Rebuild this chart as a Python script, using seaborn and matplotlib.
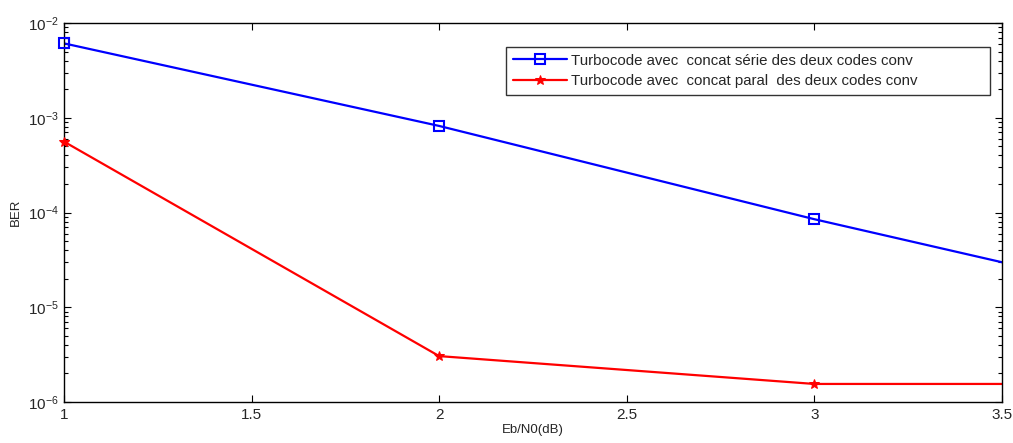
import matplotlib
matplotlib.use("Agg")
import matplotlib.pyplot as plt
import matplotlib.ticker as mticker
import numpy as np
import pandas as pd
import seaborn as sns

# Data
ebn0 = [1, 2, 3, 4]
ber_serie = [6.1e-3, 8.2e-4, 8.5e-5, 1.05e-5]
ber_paral = [5.6e-4, 3.05e-6, 1.55e-6, 1.55e-6]
label_serie = "Turbocode avec  concat série des deux codes conv"
label_paral = "Turbocode avec  concat paral  des deux codes conv"
x_ticks = [1, 1.5, 2, 2.5, 3, 3.5]
x_ticklabels = ["1", "1.5", "2", "2.5", "3", "3.5"]
y_exps = [-6, -5, -4, -3, -2]

sns.set_theme(style="white")
plt.rcParams["font.family"] = ["Liberation Sans", "DejaVu Sans"]
plt.rcParams["mathtext.fontset"] = "custom"
plt.rcParams["mathtext.rm"] = "Liberation Sans"

df = pd.DataFrame({
    "x": ebn0 + ebn0,
    "y": ber_serie + ber_paral,
    "s": [label_serie] * len(ebn0) + [label_paral] * len(ebn0),
})

fig = plt.figure(figsize=(10.13, 4.43), dpi=100)
ax = fig.add_axes([0.0632, 0.0926, 0.9258, 0.8554])

sns.lineplot(data=df[df.s == label_serie], x="x", y="y", ax=ax, color="#0000ff",
             lw=1.6, marker="s", markersize=7, markerfacecolor="none",
             markeredgecolor="#0000ff", markeredgewidth=1.5, label=label_serie)
sns.lineplot(data=df[df.s == label_paral], x="x", y="y", ax=ax, color="#ff0000",
             lw=1.6, marker="*", markersize=7, markerfacecolor="#ff0000",
             markeredgecolor="#ff0000", label=label_paral)

ax.set_yscale("log")
ax.set_xlim(1, 3.5)
ax.set_ylim(1e-6, 1e-2)

# show markers that sit on the left edge, clip line beyond x=3.5
for ln in list(ax.get_lines()):
    xd = np.asarray(ln.get_xdata(), dtype=float)
    mask = xd <= 1.0
    if mask.any():
        ax.plot(xd[mask], np.asarray(ln.get_ydata(), dtype=float)[mask],
                linestyle="none", marker=ln.get_marker(),
                markersize=ln.get_markersize(),
                markerfacecolor=ln.get_markerfacecolor(),
                markeredgecolor=ln.get_markeredgecolor(),
                markeredgewidth=ln.get_markeredgewidth(), clip_on=False, zorder=5)

ax.set_xticks(x_ticks)
ax.set_xticklabels(x_ticklabels)
ax.set_yticks([10.0 ** e for e in y_exps])
ax.set_yticklabels([r"$\mathregular{10^{%d}}$" % e for e in y_exps])
ax.yaxis.set_minor_locator(mticker.LogLocator(base=10, subs=np.arange(2, 10), numticks=20))
ax.yaxis.set_minor_formatter(mticker.NullFormatter())

ax.tick_params(axis="both", which="both", direction="in", top=True, right=True,
               bottom=True, left=True, color="black", labelsize=11, pad=4)
ax.tick_params(which="major", length=5, width=0.8)
ax.tick_params(which="minor", length=3, width=0.8)
ax.xaxis.set_tick_params(which="minor", bottom=False, top=False)

for s in ax.spines.values():
    s.set_color("black")
    s.set_linewidth(1.0)

ax.set_xlabel("Eb/N0(dB)", fontsize=9.5, labelpad=2)
ax.set_ylabel("BER", fontsize=9.5, labelpad=4)
ax.grid(False)

leg = ax.legend(loc="upper left", bbox_to_anchor=(0.4995, 0.783, 0.4778, 0.111),
                bbox_transform=fig.transFigure, mode="expand", borderaxespad=0,
                fontsize=10.8, frameon=True,
                fancybox=False, edgecolor="black", handlelength=3.6,
                borderpad=0.45, labelspacing=0.45, handletextpad=0.3)
leg.get_frame().set_linewidth(1.0)

fig.savefig("out.png", dpi=100)
